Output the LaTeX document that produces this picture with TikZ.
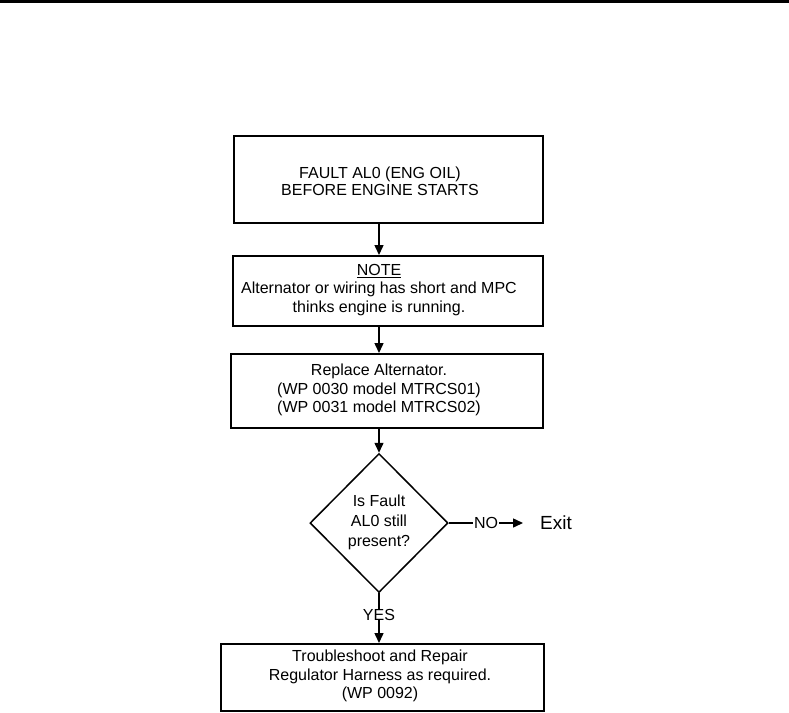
\documentclass[tikz,border=0pt]{standalone}
\usepackage{fontspec}
\setmainfont{Liberation Sans}
\usetikzlibrary{arrows.meta,shapes.geometric,calc}
\begin{document}
\begin{tikzpicture}[x=1pt,y=-1pt,
  frame/.style={draw,line width=1.5pt,inner sep=0pt,anchor=north west},
  txt/.style={align=center,font=\fontsize{16}{18.5}\selectfont,inner sep=0pt},
  arr/.style={line width=1.5pt,-{Triangle[length=10pt,width=9pt]}},
  ln/.style={line width=1.5pt}]
\useasboundingbox (0,0) rectangle (789,712);
\fill (0,0) rectangle (789,2.5);
% boxes
\node[frame,minimum width=309,minimum height=87] (b1) at (233,135) {};
\node[frame,minimum width=310,minimum height=70] (b2) at (232,255) {};
\node[frame,minimum width=312,minimum height=74] (b3) at (230,353) {};
\node[frame,line width=2pt,minimum width=323,minimum height=67] (b4) at (220,643) {};
% texts
\node[txt,font=\fontsize{16}{17}\selectfont] (t1) at (380,181) {FAULT AL0 (ENG OIL)\\BEFORE ENGINE STARTS};
\node[txt] (t2) at (379,290) {\underline{NOTE}\\Alternator or wiring has short and MPC\\thinks engine is running.};
\node[txt] (t3) at (379,390) {Replace Alternator.\\(WP 0030 model MTRCS01)\\(WP 0031 model MTRCS02)};
\node[txt] (t4) at (380,676) {Troubleshoot and Repair\\Regulator Harness as required.\\(WP 0092)};
% decision
\node[draw,ln,diamond,aspect=1,minimum width=138,minimum height=139,inner sep=0pt] (d) at (379,523) {};
\node[txt,font=\fontsize{16}{20}\selectfont] (dt) at (379,522) {Is Fault\\AL0 still\\present?};
\node[txt] (no) at (486,523) {NO};
\node[txt,font=\fontsize{19}{21}\selectfont,anchor=west] (exit) at (540,523) {Exit};
\node[txt] (yes) at (379,615) {YES};
\coordinate (ax) at (379,0);
% connectors
\draw[arr] (b1.south -| ax) -- (b2.north -| ax);
\draw[arr] (b2.south -| ax) -- (b3.north -| ax);
\draw[arr] (b3.south -| ax) -- (d.north);
\draw[ln] (d.east) -- ([xshift=-1pt]no.west);
\draw[arr] ([xshift=1pt]no.east) -- ([xshift=-17pt]exit.west);
\draw[ln] (d.south) -- ([yshift=-1pt]yes.north);
\draw[arr] ([yshift=1pt]yes.south) -- (b4.north -| ax);
\end{tikzpicture}
\end{document}
